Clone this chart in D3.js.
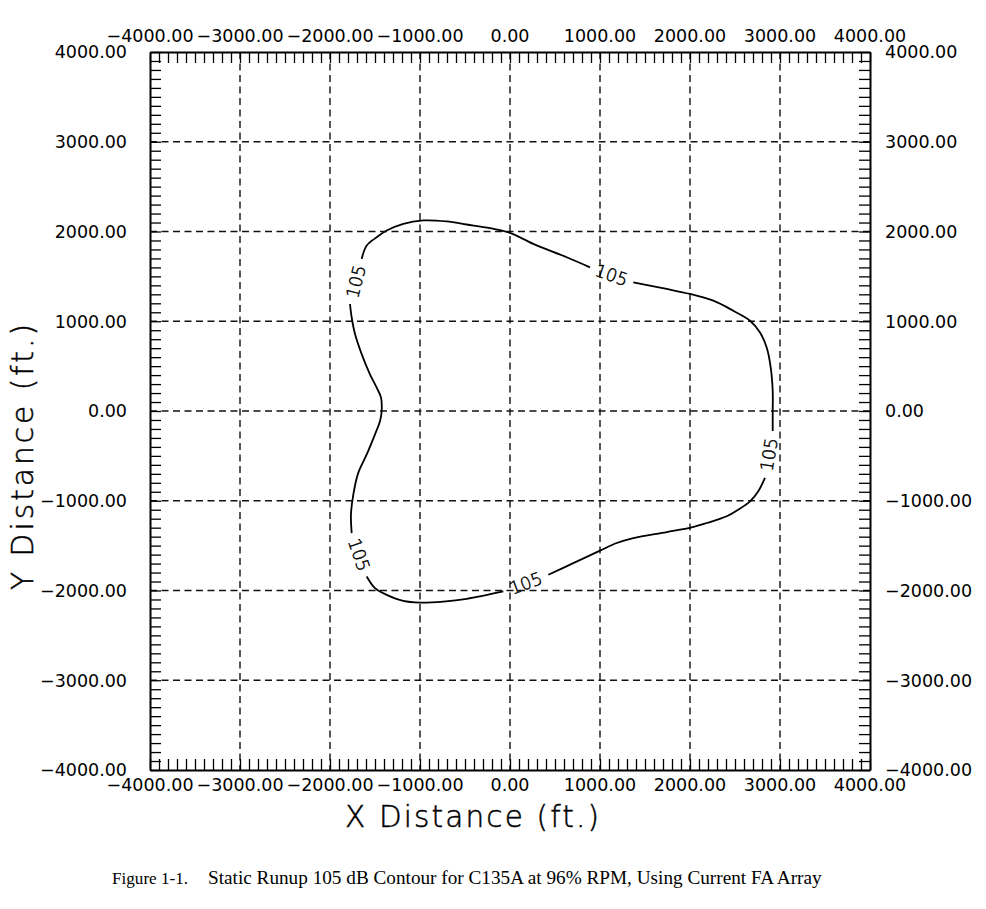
<!DOCTYPE html>
<html><head><meta charset="utf-8">
<script src="https://cdn.jsdelivr.net/npm/d3@7"></script>
<style>body{margin:0;background:#fff}</style></head>
<body><svg id="c" width="986" height="909"></svg>
<script>
// ---- data ----
const xDomain = [-4000, 4000];
const yDomain = [-4000, 4000];
const majorTicks = [-4000, -3000, -2000, -1000, 0, 1000, 2000, 3000, 4000];
const minorStep = 100;
const contourLevel = "105";
const xTitle = "X Distance (ft.)";
const yTitle = "Y Distance (ft.)";
const captionNum = "Figure 1-1.";
const captionText = "Static Runup 105 dB Contour for C135A at 96% RPM, Using Current FA Array";

// contour pieces (ft), gaps between consecutive pieces hold the level labels
const segTop = [[-1648,1695],[-1592,1844],[-1481,1936],[-1370,2011],[-1186,2086],[-963,2123],[-703,2112],[-481,2078],[-222,2037],[0,1985],[259,1862],[630,1713],[889,1601]];
const segRight = [[1370,1433],[1741,1360],[2000,1304],[2259,1229],[2481,1117],[2667,1006],[2778,875],[2852,707],[2897,484],[2919,223],[2919,0],[2919,-223]];
const segLowRight = [[2833,-745],[2759,-894],[2667,-1006],[2537,-1098],[2408,-1173],[2186,-1248],[2019,-1296],[1741,-1349],[1370,-1416],[1186,-1471],[1000,-1556],[703,-1695],[426,-1825]];
const segBottom = [[-74,-2011],[-481,-2093],[-741,-2123],[-1000,-2134],[-1186,-2115],[-1370,-2048],[-1500,-1974],[-1592,-1844]];
const segLeft = [[-1759,-1360],[-1767,-1154],[-1741,-931],[-1686,-689],[-1592,-484],[-1500,-260],[-1444,-112],[-1426,0],[-1433,149],[-1481,260],[-1556,409],[-1648,633],[-1722,857],[-1759,1042],[-1778,1192]];
const segments = [segTop, segRight, segLowRight, segBottom, segLeft];

// ---- drawing ----
const svg = d3.select("#c");
svg.append("rect").attr("width",986).attr("height",909).attr("fill","#fff");
const L=150, R=870, T=52, B=770;
const x = d3.scaleLinear().domain(xDomain).range([L,R]);
const y = d3.scaleLinear().domain(yDomain).range([B,T]);
const fmt = d3.format(".2f");
const tickFont = "'DejaVu Sans', sans-serif";
const thinFont = "'DejaVu Sans', sans-serif";

// grid
const inner = majorTicks.slice(1,-1);
const grid = svg.append("g").attr("stroke","#111").attr("stroke-width",1.4).attr("stroke-dasharray","7,4.5");
grid.selectAll("line.v").data(inner).join("line").attr("class","v")
  .attr("x1",d=>x(d)).attr("x2",d=>x(d)).attr("y1",T).attr("y2",B);
grid.selectAll("line.h").data(inner).join("line").attr("class","h")
  .attr("y1",d=>y(d)).attr("y2",d=>y(d)).attr("x1",L).attr("x2",R);

// minor ticks via d3 axes (inward)
const minor = d3.range(xDomain[0], xDomain[1]+1, minorStep);
function styleAxis(g){
  g.select(".domain").attr("stroke","#000").attr("stroke-width",2);
  g.selectAll(".tick line").attr("stroke","#000").attr("stroke-width",1.3);
}
svg.append("g").attr("transform",`translate(0,${T})`)
  .call(d3.axisTop(x).tickValues(minor).tickSize(-11).tickSizeOuter(0).tickFormat("")).call(styleAxis);
svg.append("g").attr("transform",`translate(0,${B})`)
  .call(d3.axisBottom(x).tickValues(minor).tickSize(-11).tickSizeOuter(0).tickFormat("")).call(styleAxis);
svg.append("g").attr("transform",`translate(${L},0)`)
  .call(d3.axisLeft(y).tickValues(minor).tickSize(-11).tickSizeOuter(0).tickFormat("")).call(styleAxis);
svg.append("g").attr("transform",`translate(${R},0)`)
  .call(d3.axisRight(y).tickValues(minor).tickSize(-11).tickSizeOuter(0).tickFormat("")).call(styleAxis);

// tick labels
const lab = svg.append("g").attr("font-family",tickFont).attr("font-size",17.5).attr("fill","#000");
lab.selectAll("text.t").data(majorTicks).join("text").attr("class","t")
  .attr("x",d=>x(d)).attr("y",T-10).attr("text-anchor","middle").text(d=>fmt(d));
lab.selectAll("text.b").data(majorTicks).join("text").attr("class","b")
  .attr("x",d=>x(d)).attr("y",B+21).attr("text-anchor","middle").text(d=>fmt(d));
lab.selectAll("text.l").data(majorTicks).join("text").attr("class","l")
  .attr("x",L-23).attr("y",d=>y(d)).attr("dy","0.36em").attr("text-anchor","end").text(d=>fmt(d));
lab.selectAll("text.r").data(majorTicks).join("text").attr("class","r")
  .attr("x",R+15).attr("y",d=>y(d)).attr("dy","0.36em").attr("text-anchor","start").text(d=>fmt(d));

// axis titles
svg.append("text").attr("x",345).attr("y",827).attr("font-family",thinFont)
  .attr("font-weight",200).attr("font-size",29.5).attr("fill","#000")
  .attr("stroke","#000").attr("stroke-width",0.5).text(xTitle)
  .attr("textLength",254).attr("lengthAdjust","spacing");
svg.append("text").attr("transform","translate(33,590) rotate(-90)").attr("font-family",thinFont)
  .attr("font-weight",200).attr("font-size",29.5).attr("fill","#000")
  .attr("stroke","#000").attr("stroke-width",0.5).text(yTitle)
  .attr("textLength",266).attr("lengthAdjust","spacing");

// contour
const line = d3.line().x(d=>x(d[0])).y(d=>y(d[1])).curve(d3.curveCatmullRom.alpha(0.5));
svg.append("g").attr("fill","none").attr("stroke","#000").attr("stroke-width",1.8)
  .selectAll("path").data(segments).join("path").attr("d",line);

// contour labels in gaps
const gaps = segments.map((s,i)=>{
  const a = s[s.length-1], b = segments[(i+1)%segments.length][0];
  const ax=x(a[0]), ay=y(a[1]), bx=x(b[0]), by=y(b[1]);
  let ang = Math.atan2(by-ay, bx-ax)*180/Math.PI;
  if (ang>90) ang-=180; if (ang<-90) ang+=180;
  return {cx:(ax+bx)/2, cy:(ay+by)/2, ang};
});
svg.append("g").attr("font-family",thinFont).attr("font-weight",200).attr("font-size",17.5).attr("fill","#000")
  .attr("stroke","#000").attr("stroke-width",0.45)
  .selectAll("text").data(gaps).join("text")
  .attr("transform",d=>`translate(${d.cx},${d.cy}) rotate(${d.ang})`)
  .attr("text-anchor","middle").attr("dy","0.36em").text(contourLevel);

// caption
const capFont = "'Liberation Serif','Times New Roman',serif";
const cap = svg.append("text").attr("x",208).attr("y",884).attr("font-family",capFont).attr("font-size",16).text(captionText);
const w = cap.node().getComputedTextLength();
const capSize = 16*614/w;
cap.attr("font-size", capSize);
const fig = svg.append("text").attr("x",112).attr("y",884).attr("font-family",capFont).attr("font-size",capSize).text(captionNum);
const fw = fig.node().getComputedTextLength();
fig.attr("font-size", capSize*Math.min(1, 76/fw));
</script></body></html>
